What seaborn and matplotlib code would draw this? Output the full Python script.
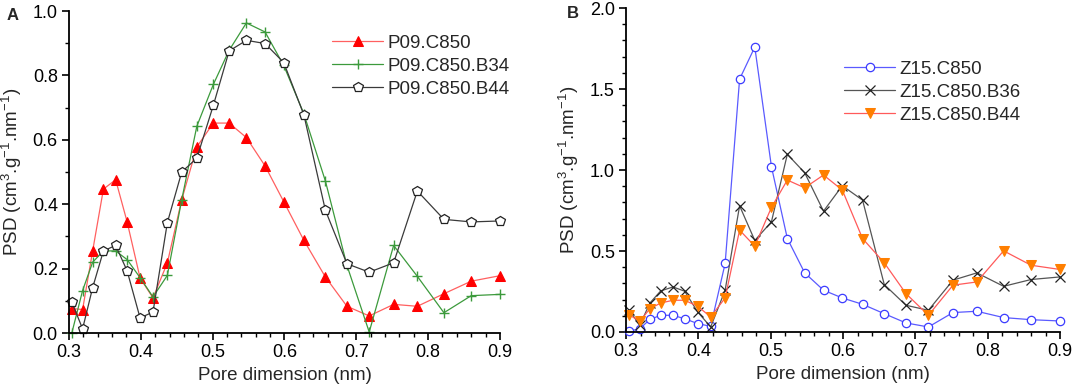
import matplotlib
matplotlib.use("Agg")
import matplotlib.pyplot as plt
import seaborn as sns
from matplotlib.ticker import MultipleLocator

# pore dimension grid (nm), shared by both panels
pore = [0.304, 0.319, 0.333, 0.348, 0.365, 0.381, 0.399, 0.417, 0.437, 0.457,
        0.478, 0.501, 0.523, 0.547, 0.573, 0.599, 0.627, 0.657, 0.687, 0.718,
        0.752, 0.785, 0.822, 0.860, 0.900]

# panel A
p09_c850 = [0.076, 0.073, 0.255, 0.447, 0.476, 0.345, 0.171, 0.109, 0.218, 0.414,
            0.578, 0.652, 0.652, 0.607, 0.519, 0.408, 0.288, 0.174, 0.083, 0.053,
            0.089, 0.083, 0.122, 0.161, 0.178]
p09_b34 = [0.0, 0.132, 0.220, 0.255, 0.255, 0.228, 0.172, 0.112, 0.179, 0.414,
           0.642, 0.772, 0.878, 0.963, 0.935, 0.831, 0.681, 0.472, 0.210, 0.003,
           0.272, 0.176, 0.063, 0.116, 0.120]
p09_b44 = [0.096, 0.013, 0.141, 0.255, 0.272, 0.193, 0.047, 0.065, 0.343, 0.500,
           0.543, 0.707, 0.876, 0.909, 0.899, 0.840, 0.678, 0.381, 0.215, 0.189,
           0.218, 0.441, 0.353, 0.345, 0.348]

# panel B
z15_c850 = [0.005, 0.020, 0.078, 0.103, 0.103, 0.082, 0.052, 0.035, 0.423, 1.561,
            1.759, 1.021, 0.577, 0.365, 0.258, 0.210, 0.171, 0.113, 0.056, 0.031,
            0.120, 0.128, 0.089, 0.076, 0.068]
z15_b36 = [0.138, 0.041, 0.179, 0.254, 0.278, 0.252, 0.124, 0.031, 0.258, 0.779,
           0.565, 0.680, 1.097, 0.983, 0.746, 0.903, 0.814, 0.293, 0.165, 0.134,
           0.320, 0.365, 0.282, 0.324, 0.340]
z15_b44 = [0.107, 0.066, 0.144, 0.179, 0.196, 0.196, 0.159, 0.093, 0.210, 0.629,
           0.530, 0.769, 0.938, 0.890, 0.969, 0.876, 0.577, 0.427, 0.237, 0.103,
           0.289, 0.309, 0.501, 0.412, 0.386]

sns.set_theme(style="ticks")
plt.rcParams["font.family"] = ["Liberation Sans", "DejaVu Sans"]
plt.rcParams["mathtext.fontset"] = "custom"
plt.rcParams["mathtext.rm"] = "Liberation Sans"
plt.rcParams["mathtext.it"] = "Liberation Sans"

fig = plt.figure(figsize=(10.74, 3.91), dpi=100)
axA = fig.add_axes([0.0642, 0.1483, 0.4013, 0.8235])
axB = fig.add_axes([0.5829, 0.1509, 0.4041, 0.8286])

series_a = [
    ("P09.C850", p09_c850, dict(color="#ff6060", marker="^", markersize=7.5,
                                markerfacecolor="#ff0000", markeredgecolor="#ff0000")),
    ("P09.C850.B34", p09_b34, dict(color="#3c9a3c", marker="+", markersize=7,
                                   markeredgecolor="#3c9a3c", markeredgewidth=1)),
    ("P09.C850.B44", p09_b44, dict(color="#3a3a3a", marker="p", markersize=7.5,
                                   markerfacecolor="white", markeredgecolor="#222222",
                                   markeredgewidth=0.9)),
]
series_b = [
    ("Z15.C850", z15_c850, dict(color="#5a5aff", marker="o", markersize=6,
                                markerfacecolor="white", markeredgecolor="#3c3cff",
                                markeredgewidth=0.9)),
    ("Z15.C850.B36", z15_b36, dict(color="#555555", marker="x", markersize=7,
                                   markeredgecolor="#222222", markeredgewidth=0.9)),
    ("Z15.C850.B44", z15_b44, dict(color="#ff5a5a", marker="v", markersize=7.5,
                                   markerfacecolor="#ff7f00", markeredgecolor="#ff7f00")),
]

for ax, series in [(axA, series_a), (axB, series_b)]:
    for name, vals, style in series:
        sns.lineplot(x=pore, y=vals, ax=ax, label=name, linewidth=0.9,
                     clip_on=False, **style)

axA.set_ylim(0, 1.0)
axA.yaxis.set_major_locator(MultipleLocator(0.2))
axA.yaxis.set_minor_locator(MultipleLocator(0.1))
axB.set_ylim(0, 2.0)
axB.yaxis.set_major_locator(MultipleLocator(0.5))
axB.yaxis.set_minor_locator(MultipleLocator(0.1))

ylab = "PSD (cm$^3$.g$^{-1}$.nm$^{-1}$)"
for ax in (axA, axB):
    ax.set_xlim(0.3, 0.9)
    ax.xaxis.set_major_locator(MultipleLocator(0.1))
    ax.xaxis.set_minor_locator(MultipleLocator(0.02))
    ax.xaxis.set_major_formatter(lambda v, p: f"{v:.1f}")
    ax.yaxis.set_major_formatter(lambda v, p: f"{v:.1f}")
    sns.despine(ax=ax)
    for s in ("left", "bottom"):
        ax.spines[s].set_linewidth(1.3)
        ax.spines[s].set_color("black")
    ax.tick_params(which="major", direction="out", length=5, width=1.2,
                   labelsize=13, colors="black", pad=3)
    ax.tick_params(which="minor", direction="out", length=3, width=1.0, colors="black")
    ax.set_xlabel("Pore dimension (nm)", fontsize=13.5, labelpad=4)
    ax.set_ylabel(ylab, fontsize=13.5, labelpad=6)

axA.legend(loc="upper left", bbox_to_anchor=(323 / 1074, 1 - 25 / 391),
           bbox_transform=fig.transFigure, frameon=False, fontsize=13.5,
           handlelength=2.7, handletextpad=0.25, labelspacing=0.32, borderpad=0)
axB.legend(loc="upper left", bbox_to_anchor=(835 / 1074, 1 - 51 / 391),
           bbox_transform=fig.transFigure, frameon=False, fontsize=13.5,
           handlelength=2.7, handletextpad=0.25, labelspacing=0.32, borderpad=0)

fig.text(13 / 1074, 1 - 15 / 391, "A", fontsize=12, fontweight="bold",
         ha="center", va="center")
fig.text(573 / 1074, 1 - 13 / 391, "B", fontsize=12, fontweight="bold",
         ha="center", va="center")

fig.savefig("out.png", dpi=100)
